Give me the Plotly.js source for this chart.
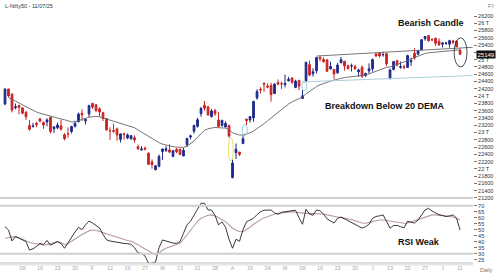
<!DOCTYPE html>
<html><head><meta charset="utf-8">
<script src="https://cdn.plot.ly/plotly-3.0.1.min.js"></script>
<style>html,body{margin:0;padding:0;background:#fff;}#c{width:500px;height:280px;}</style>
</head><body><div id="c"></div>
<script>
// Daily OHLC, 2 Jan 2025 .. 11 Jul 2025 (bar index 0..130)
const open  = [23783,24196,24045,23680,23746,23674,23551,23195,23165,23250,23377,23277,23290,23421,23099,23128,23183,22940,22961,23027,23170,23297,23528,23319,23509,23802,23761,23649,23543,23383,23050,23055,23097,22809,22963,22848,22821,22857,22609,22516,22568,22433,22194,21975,22073,22476,22508,22521,22345,22537,22541,22353,22662,22874,23036,23168,23515,23751,23700,23433,23600,23341,23192,23150,23190,21758,22446,22460,22695,23368,23345,23401,23949,24185,24357,24277,24289,24070,24370,24342,24311,24419,24500,24233,24431,23935,24420,24864,24613,24694,25064,25005,24996,24744,24733,24639,24919,24957,24832,24825,24812,24669,24787,24561,24691,24749,25160,25197,25134,25164,24473,24732,24977,24788,24803,24787,24940,25179,25151,25268,25577,25661,25551,25588,25505,25427,25450,25427,25514,25511,25255];
const high  = [24226,24196,24089,23795,23751,23689,23596,23341,23264,23293,23391,23292,23391,23426,23169,23270,23347,22982,23138,23183,23322,23546,23632,23381,23762,23807,23773,23694,23568,23391,23145,23236,23133,22974,22992,22973,22923,22921,22668,22625,22613,22450,22262,22105,22395,22563,22633,22676,22522,22577,22558,22577,22857,22940,23216,23402,23708,23869,23737,23646,23649,23565,23350,23306,23214,22255,22697,22468,22923,23368,23452,23872,24189,24242,24359,24347,24365,24355,24457,24396,24589,24526,24509,24449,24447,24164,24944,24973,24767,25070,25116,25062,25010,24946,24737,24909,25079,24958,24864,24892,24863,24754,24845,24644,24899,25030,25160,25199,25222,25196,24754,24967,24982,24947,24863,25136,25057,25317,25266,25565,25654,25669,25593,25608,25587,25470,25489,25548,25548,25525,25322];
const low   = [23751,23976,23551,23637,23496,23503,23345,23047,23134,23146,23273,23100,23170,22976,22981,23090,23050,22786,22857,22976,23139,23277,23318,23222,23423,23645,23556,23443,23316,23046,22798,22992,22775,22725,22801,22815,22812,22720,22518,22513,22508,22104,22005,21965,22043,22245,22464,22429,22315,22430,22377,22353,22599,22808,22973,23132,23433,23601,23451,23412,23451,23136,23158,23145,22858,21743,22270,22353,22695,23207,23273,23298,23903,24073,24119,24216,23847,24054,24290,24198,24238,24400,24331,24220,24164,23935,24378,24547,24535,24621,24953,24916,24669,24737,24463,24614,24900,24704,24737,24677,24717,24526,24502,24530,24613,24671,25077,25055,25081,24825,24473,24703,24813,24750,24733,24783,24825,24999,25125,25259,25523,25500,25508,25378,25390,25332,25407,25331,25424,25340,25130];
const close = [24189,24005,23616,23708,23689,23527,23432,23086,23176,23213,23312,23203,23345,23025,23155,23205,23092,22829,22957,23163,23250,23508,23482,23362,23739,23696,23603,23560,23382,23072,23046,23031,22930,22960,22945,22933,22913,22796,22553,22547,22545,22125,22119,22083,22337,22545,22553,22461,22498,22470,22397,22509,22834,22907,23191,23350,23658,23669,23486,23592,23519,23165,23332,23250,22904,22162,22536,22399,22829,23328,23437,23852,24125,24167,24329,24247,24039,24328,24336,24334,24347,24461,24380,24414,24273,24008,24925,24578,24667,25062,25020,24945,24684,24813,24610,24853,25001,24826,24752,24834,24751,24717,24543,24620,24751,25003,25103,25104,25141,24888,24718,24947,24853,24812,24793,25112,24972,25045,25245,25549,25638,25517,25542,25453,25405,25461,25461,25523,25476,25356,25149.85];
// 20 DEMA
const dema  = [null,23960,23900,23860,23810,23760,23710,23650,23600,23560,23530,23500,23470,23450,23420,23400,23370,23350,23310,23290,23290,23330,23370,23390,23420,23440,23445,23430,23400,23360,23320,23290,23260,23240,23210,23190,23160,23130,23070,23010,22960,22890,22830,22780,22720,22680,22650,22630,22610,22600,22590,22590,22620,22690,22770,22870,22980,23060,23100,23130,23140,23130,23130,23120,23080,22990,22960,22930,22930,22950,22990,23040,23100,23160,23240,23320,23400,23480,23560,23640,23710,23780,23840,23890,23930,23975,24060,24130,24200,24260,24310,24350,24380,24410,24440,24470,24500,24510,24520,24530,24540,24550,24560,24580,24610,24650,24690,24730,24770,24790,24800,24830,24860,24890,24920,24970,25020,25060,25100,25140,25170,25190,25200,25210,25220,25230,25240,25255,25265,25270,25270];
// RSI and its average
const rsi   = [52.5,49.7,40.6,44.2,43,41.5,40,33,34,36,38.5,37.5,41,37,38.5,40,38.5,34.5,39,44,48,52,50,54,57.2,55.5,53.5,51.5,46,41.5,40.5,40,39.5,38.6,38.5,38.3,37.8,35,30.5,30.3,28,22,22,23,35,41.4,40.5,40,38.8,38.6,40,47,54,57,61.5,67,72,72,66.4,66.4,62,54,56.5,52,42,34.5,42,40.3,50,56.7,58,59.5,62.5,65,66.2,66.4,66.4,64,62.8,64.5,65,65,65.5,66.2,60,54.5,67,63,62,66.4,65.7,63,59,57,55.5,59.5,60.5,59,57.5,56,54.5,53,51.3,52.5,54.5,59.5,61,61.5,62.3,57,51.2,53.5,53.5,52.5,51.5,57,56,55.5,58,62,66.4,67.8,65.5,64,62.5,61.8,61,61.5,62.3,59.5,49.7];
const rsiAvg= [42.8,43.5,44,44.2,43,41.5,40.5,39.5,38.6,38,37.5,37.3,37.5,38.5,39.5,40,39,37.5,38.5,40.5,42.5,44.5,46,47.5,49,49.7,49.5,48.5,47.5,46.5,45.5,44.5,43.5,42.8,42,41,40.3,39,37.5,35.5,34,32,30.5,29,30.5,33,34.5,35.5,36.2,37.5,38.6,42,46,50,54,57,59.5,61,62,62.3,61.5,60,58.5,56.7,54,51.2,49.5,48.5,48.3,50,52,54.5,56.5,58.5,60,60.8,62,63,63.6,64,64.5,65,65,64.5,64,63.6,63.6,63.6,63.6,63.6,63.6,63,62.3,61.5,60.8,60.5,60,59.5,59.5,58.5,57.5,56.5,55.5,55.3,56,57,57.8,58,58,57.5,57,56.7,56,55.5,55.3,55.5,56.5,57.5,58.5,59.5,60.8,61.5,62.3,62.3,62,61.5,61,60.8,60.5,59.5,58];
// x tick labels, one every 5 bars starting at bar 5
const xTickText = ["09","16","23","30","F","12","19","27","M","13","21","28","A","16","24","M","09","16","23","30","J","13","20","27","J","11"];
const priceTickVals = [21200,21400,21600,21800,22000,22200,22400,22600,22800,23000,23200,23400,23600,23800,24000,24200,24400,24600,24800,25000,25200,25400,25600,25800,26000,26200];
const rsiTickVals = [25,30,35,40,45,50,55,60,65,70];
// chart annotations (bar index / price)
const upGapBars = [68,85];      // cyan gap markers
const downGapBars = [64];       // yellow gap marker
const upperLine = [89,25100,133.6,25340];
const lowerLine = [85,24390,133.6,24565];
const circleBox = [128.3,24800,132,25600];

const x = close.map((_, i) => i);
const last = close.length - 1;
const xTickVals = xTickText.map((_, k) => 5 + 5 * k);
// the label under the last-price box is hidden in the reference
const priceTickText = priceTickVals.map(v => Math.abs(v - close[last]) < 100 ? '' : (v % 1000 === 0 ? (v / 1000) + ' T' : String(v)));

const F = 'Liberation Sans, Arial, sans-serif';
const traces = [
  {type:'candlestick', x:x, open:open, high:high, low:low, close:close, xaxis:'x', yaxis:'y',
   increasing:{line:{color:'#1d2a8a', width:1}, fillcolor:'#1d2a8a'},
   decreasing:{line:{color:'#cc2222', width:1}, fillcolor:'#cc2222'},
   whiskerwidth:0, hoverinfo:'skip', showlegend:false},
  {type:'scatter', mode:'lines', x:x, y:dema, xaxis:'x', yaxis:'y', line:{color:'#666', width:0.9}, hoverinfo:'skip', showlegend:false},
  {type:'scatter', mode:'lines', x:x, y:rsiAvg, xaxis:'x', yaxis:'y2', line:{color:'#b79a9a', width:1.1}, hoverinfo:'skip', showlegend:false},
  {type:'scatter', mode:'lines', x:x, y:rsi, xaxis:'x', yaxis:'y2', line:{color:'#222', width:0.9}, hoverinfo:'skip', showlegend:false}
];

const shapes = [];
upGapBars.forEach(i => shapes.push({type:'circle', xref:'x', yref:'y', x0:i-0.2, x1:i+1.2, y0:high[i]-10, y1:low[i+1]+10, line:{color:'#8fd3e0', width:1}}));
downGapBars.forEach(i => shapes.push({type:'circle', xref:'x', yref:'y', x0:i-0.2, x1:i+1.2, y0:high[i+1]-40, y1:low[i]+10, line:{color:'#e8df70', width:1}}));
shapes.push({type:'line', xref:'x', yref:'y', x0:upperLine[0], y0:upperLine[1], x1:upperLine[2], y1:upperLine[3], line:{color:'#777', width:1}});
shapes.push({type:'line', xref:'x', yref:'y', x0:lowerLine[0], y0:lowerLine[1], x1:lowerLine[2], y1:lowerLine[3], line:{color:'#a8d0d4', width:1}});
shapes.push({type:'circle', xref:'x', yref:'y', x0:circleBox[0], y0:circleBox[1], x1:circleBox[2], y1:circleBox[3], line:{color:'#222', width:0.8}});
// RSI panel lines
[70,30].forEach(v => shapes.push({type:'line', xref:'paper', yref:'y2', x0:0, x1:1, y0:v, y1:v, line:{color:'#cfcfcf', width:2}}));
shapes.push({type:'line', xref:'paper', yref:'paper', x0:0, x1:1, y0:0.2929, y1:0.2929, line:{color:'#d0d0d0', width:2}});
shapes.push({type:'line', xref:'paper', yref:'paper', x0:0, x1:1, y0:0.0607, y1:0.0607, line:{color:'#bdbdbd', width:1}});
shapes.push({type:'line', xref:'paper', yref:'paper', x0:0, x1:1, y0:0.0540, y1:0.0540, line:{color:'#d8d8d8', width:1}});

const annotations = [
  {xref:'paper', yref:'paper', x:0.006, y:0.978, xanchor:'left', yanchor:'middle', text:'L-Nifty50 - 11/07/25', showarrow:false, font:{family:F, size:5.5, color:'#333'}},
  {xref:'paper', yref:'paper', x:1.050, y:0.978, xanchor:'right', yanchor:'middle', text:'FY', showarrow:false, font:{family:F, size:5, color:'#777'}},
  {xref:'paper', yref:'paper', x:1.028, y:0.035, xanchor:'center', yanchor:'middle', text:'Daily', showarrow:false, font:{family:F, size:5.5, color:'#777'}},
  {xref:'paper', yref:'paper', x:0.838, y:0.918, xanchor:'left', yanchor:'middle', text:'<b>Bearish Candle</b>', showarrow:false, font:{family:F, size:9, color:'#111'}},
  {xref:'paper', yref:'paper', x:0.682, y:0.622, xanchor:'left', yanchor:'middle', text:'<b>Breakdown Below 20 DEMA</b>', showarrow:false, font:{family:F, size:9, color:'#111'}},
  {xref:'paper', yref:'paper', x:0.838, y:0.136, xanchor:'left', yanchor:'middle', text:'<b>RSI Weak</b>', showarrow:false, font:{family:F, size:9, color:'#111'}},
  {xref:'paper', yref:'y', x:1, y:close[last], xanchor:'left', yanchor:'middle', xshift:3, text:String(Math.floor(close[last])), showarrow:false, bgcolor:'#111', borderpad:0.5, font:{family:F, size:6, color:'#fff'}}
];

const layout = {
  width:500, height:280, margin:{l:0, r:27, t:0, b:0}, paper_bgcolor:'#fff', plot_bgcolor:'#fff',
  showlegend:false, dragmode:false,
  xaxis:{anchor:'y2', range:[-1.43,133.7], rangeslider:{visible:false}, showgrid:false, zeroline:false, showline:false,
         tickmode:'array', tickvals:xTickVals, ticktext:xTickText, ticks:'', tickfont:{family:F, size:5.5, color:'#aaa'}, automargin:false},
  yaxis:{domain:[0.2929,0.9643], range:[21200,26365], side:'right', showgrid:false, zeroline:false, showline:false,
         tickmode:'array', tickvals:priceTickVals, ticktext:priceTickText, ticks:'outside', ticklen:3, tickcolor:'#555', tickwidth:0.8,
         tickfont:{family:F, size:5.5, color:'#333'}, automargin:false},
  yaxis2:{domain:[0.0607,0.2929], range:[22.2,76.4], side:'right', showgrid:false, zeroline:false, showline:false,
         tickmode:'array', tickvals:rsiTickVals, ticks:'outside', ticklen:3, tickcolor:'#555', tickwidth:0.8,
         tickfont:{family:F, size:5.5, color:'#333'}, automargin:false},
  shapes:shapes, annotations:annotations
};
Plotly.newPlot('c', traces, layout, {staticPlot:true, displayModeBar:false});
</script></body></html>
